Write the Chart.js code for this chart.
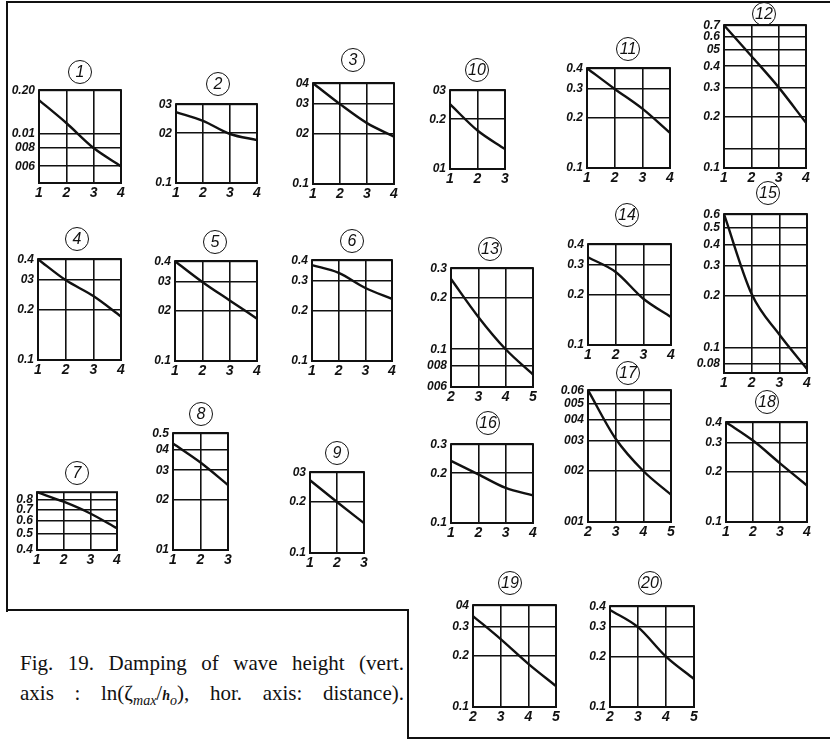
<!DOCTYPE html>
<html>
<head>
<meta charset="utf-8">
<script src="https://cdn.jsdelivr.net/npm/chart.js@4.4.0/dist/chart.umd.min.js"></script>
<style>
  body { margin: 0; background: #fff; width: 830px; height: 743px; position: relative; overflow: hidden; }
  .rule { position: absolute; background: #111; }
  .panel { position: absolute; }
  .tag { position: absolute; box-sizing: border-box; width: 24px; height: 24px; border: 1.7px solid #111; border-radius: 50%;
         font: italic 16px "Liberation Sans", sans-serif; color: #111; text-align: center; line-height: 21px;
         transform: translate(-50%, -50%); }
  .caption { position: absolute; left: 20px; width: 384px; font: 21px/24px "Liberation Serif", serif; color: #111;
             text-align: justify; text-align-last: justify; }
  .caption i { font-size: 14px; }
</style>
</head>
<body>
<div class="rule" style="left:6px;top:1px;width:824px;height:2px"></div>
<div class="rule" style="left:6px;top:1px;width:2px;height:611px"></div>
<div class="rule" style="left:6px;top:609px;width:403px;height:2px"></div>
<div class="rule" style="left:407px;top:609px;width:2px;height:130px"></div>
<div class="rule" style="left:407px;top:737px;width:423px;height:2px"></div>
<div class="caption" style="top:651px">Fig. 19. Damping of wave height (vert.</div>
<div class="caption" style="top:681px">axis : ln(ζ<sub><i>max</i></sub>/<b><i>h</i></b><sub><i>o</i></sub>), hor. axis: distance).</div>

<script>
// panel numbers, 1..20
const panelNames = ['1','2','3','4','5','6','7','8','9','10','11','12','13','14','15','16','17','18','19','20'];

// distance values along the x axis
const panelDistances = [
  [1,2,3,4], [1,2,3,4], [1,2,3,4], [1,2,3,4], [1,2,3,4], [1,2,3,4], [1,2,3,4],
  [1,2,3], [1,2,3], [1,2,3], [1,2,3,4], [1,2,3,4], [2,3,4,5], [1,2,3,4],
  [1,2,3,4], [1,2,3,4], [2,3,4,5], [1,2,3,4], [2,3,4,5], [2,3,4,5]
];

// relative wave height at each distance
const panelHeights = [
  [0.171, 0.119, 0.080, 0.060],
  [0.269, 0.238, 0.198, 0.182],
  [0.40, 0.30, 0.231, 0.192],
  [0.40, 0.30, 0.241, 0.182],
  [0.40, 0.30, 0.232, 0.180],
  [0.374, 0.336, 0.273, 0.235],
  [0.89, 0.78, 0.663, 0.54],
  [0.434, 0.334, 0.245],
  [0.269, 0.20, 0.150],
  [0.247, 0.171, 0.132],
  [0.40, 0.30, 0.228, 0.163],
  [0.70, 0.46, 0.30, 0.185],
  [0.259, 0.155, 0.10, 0.071],
  [0.334, 0.273, 0.189, 0.147],
  [0.60, 0.205, 0.119, 0.075],
  [0.238, 0.197, 0.163, 0.147],
  [0.060, 0.031, 0.020, 0.0145],
  [0.40, 0.31, 0.226, 0.166],
  [0.345, 0.252, 0.18, 0.133],
  [0.38, 0.30, 0.20, 0.147]
];

// vertical axis limits
const panelYMin = [0.046, 0.1, 0.1, 0.1, 0.1, 0.1, 0.4, 0.1, 0.1, 0.1, 0.1, 0.1, 0.06, 0.1, 0.071, 0.1, 0.01, 0.1, 0.1, 0.1];
const panelYMax = [0.2, 0.3, 0.4, 0.4, 0.4, 0.4, 0.89, 0.5, 0.3, 0.3, 0.4, 0.7, 0.3, 0.4, 0.6, 0.3, 0.06, 0.4, 0.4, 0.4];

// gridline values and the labels written beside them
const panelTickValues = [
  [0.2, 0.1, 0.08, 0.06],
  [0.3, 0.2, 0.1],
  [0.4, 0.3, 0.2, 0.1],
  [0.4, 0.3, 0.2, 0.1],
  [0.4, 0.3, 0.2, 0.1],
  [0.4, 0.3, 0.2, 0.1],
  [0.8, 0.7, 0.6, 0.5, 0.4],
  [0.5, 0.4, 0.3, 0.2, 0.1],
  [0.3, 0.2, 0.1],
  [0.3, 0.2, 0.1],
  [0.4, 0.3, 0.2, 0.1],
  [0.7, 0.6, 0.5, 0.4, 0.3, 0.2, 0.13, 0.1],
  [0.3, 0.2, 0.1, 0.08, 0.06],
  [0.4, 0.3, 0.2, 0.1],
  [0.6, 0.5, 0.4, 0.3, 0.2, 0.1, 0.08],
  [0.3, 0.2, 0.1],
  [0.06, 0.05, 0.04, 0.03, 0.02, 0.01],
  [0.4, 0.3, 0.2, 0.1],
  [0.4, 0.3, 0.2, 0.1],
  [0.4, 0.3, 0.2, 0.1]
];
const panelTickLabels = [
  ['0.20', '0.01', '008', '006'],
  ['03', '02', '0.1'],
  ['04', '03', '02', '0.1'],
  ['0.4', '03', '0.2', '0.1'],
  ['0.4', '03', '02', '0.1'],
  ['0.4', '0.3', '0.2', '0.1'],
  ['0.8', '0.7', '0.6', '0.5', '0.4'],
  ['0.5', '04', '03', '02', '01'],
  ['03', '0.2', '0.1'],
  ['03', '0.2', '01'],
  ['0.4', '0.3', '0.2', '0.1'],
  ['0.7', '0.6', '05', '0.4', '0.3', '0.2', '', '0.1'],
  ['0.3', '0.2', '0.1', '008', '006'],
  ['0.4', '0.3', '0.2', '0.1'],
  ['0.6', '0.5', '0.4', '0.3', '0.2', '0.1', '0.08'],
  ['0.3', '0.2', '0.1'],
  ['0.06', '005', '004', '003', '002', '001'],
  ['0.4', '0.3', '0.2', '0.1'],
  ['04', '0.3', '0.2', '0.1'],
  ['0.4', '0.3', '0.2', '0.1']
];

// plot box [left, top, width, height] and circled number centre [x, y]
const panelBoxes = [
  [39, 89, 82, 94], [176, 103, 81, 80], [313, 82, 81, 102], [38, 258, 83, 102], [175, 260, 82, 101],
  [312, 259, 80, 102], [37, 491, 80, 59], [173, 432, 55, 118], [310, 471, 54, 82], [450, 89, 55, 80],
  [587, 67, 83, 101], [724, 24, 82, 144], [451, 267, 82, 120], [588, 243, 83, 102], [724, 213, 83, 160],
  [451, 443, 82, 80], [588, 389, 83, 133], [726, 421, 81, 101], [473, 604, 83, 103], [610, 605, 84, 102]
];
const panelTags = [
  [80, 72], [218, 84], [353, 60], [77, 239], [215, 242], [352, 241], [77, 473], [201, 414], [337, 453], [477, 70],
  [628, 49], [764, 14], [490, 249], [627, 215], [768, 193], [488, 423], [628, 373], [767, 402], [510, 583], [650, 583]
];

const AXIS_W = 38, AXIS_H = 18, PAD = 10;
const ink = '#111';
const yFont = { family: 'Liberation Sans', size: 12, style: 'italic', weight: 'bold' };
const xFont = { family: 'Liberation Sans', size: 14, style: 'italic', weight: 'bold' };

// outline of the plot box
const frameBox = {
  id: 'frameBox',
  beforeDatasetsDraw(chart) {
    const a = chart.chartArea, ctx = chart.ctx;
    ctx.save();
    ctx.strokeStyle = ink;
    ctx.lineWidth = 2;
    ctx.strokeRect(a.left, a.top, a.right - a.left, a.bottom - a.top);
    ctx.restore();
  }
};

panelNames.forEach((name, i) => {
  const [bx, by, bw, bh] = panelBoxes[i];
  const xs = panelDistances[i];

  const wrap = document.createElement('div');
  wrap.className = 'panel';
  wrap.style.left = (bx - AXIS_W) + 'px';
  wrap.style.top = (by - PAD) + 'px';
  const cv = document.createElement('canvas');
  cv.width = bw + AXIS_W + PAD;
  cv.height = bh + PAD + AXIS_H;
  wrap.appendChild(cv);
  document.body.appendChild(wrap);

  const tag = document.createElement('div');
  tag.className = 'tag';
  tag.style.left = panelTags[i][0] + 'px';
  tag.style.top = panelTags[i][1] + 'px';
  tag.textContent = name;
  document.body.appendChild(tag);

  const tickVals = panelTickValues[i];
  const tickText = panelTickLabels[i];

  new Chart(cv, {
    type: 'line',
    data: {
      datasets: [{
        data: xs.map((x, k) => ({ x, y: panelHeights[i][k] })),
        borderColor: ink, borderWidth: 2.4, pointRadius: 0,
        cubicInterpolationMode: 'monotone', clip: 4
      }]
    },
    options: {
      responsive: false, animation: false, devicePixelRatio: 1,
      layout: { padding: { top: PAD, right: PAD, left: 0, bottom: 0 } },
      plugins: { legend: { display: false }, tooltip: { enabled: false } },
      scales: {
        x: {
          type: 'linear', min: xs[0], max: xs[xs.length - 1], bounds: 'data',
          grid: { color: ink, lineWidth: 1.6, drawTicks: false },
          border: { display: false },
          ticks: { stepSize: 1, color: ink, font: xFont, padding: 2, maxRotation: 0, callback: v => String(v) },
          afterFit: s => { s.height = AXIS_H; }
        },
        y: {
          type: 'logarithmic', min: panelYMin[i], max: panelYMax[i], bounds: 'data',
          grid: { color: ink, lineWidth: 1.6, drawTicks: false },
          border: { display: false },
          ticks: { color: ink, font: yFont, padding: 4, autoSkip: false, callback: (v, k) => tickText[k] },
          afterBuildTicks: s => { s.ticks = tickVals.map(v => ({ value: v })); },
          afterFit: s => { s.width = AXIS_W; }
        }
      }
    },
    plugins: [frameBox]
  });
});
</script>
</body>
</html>
